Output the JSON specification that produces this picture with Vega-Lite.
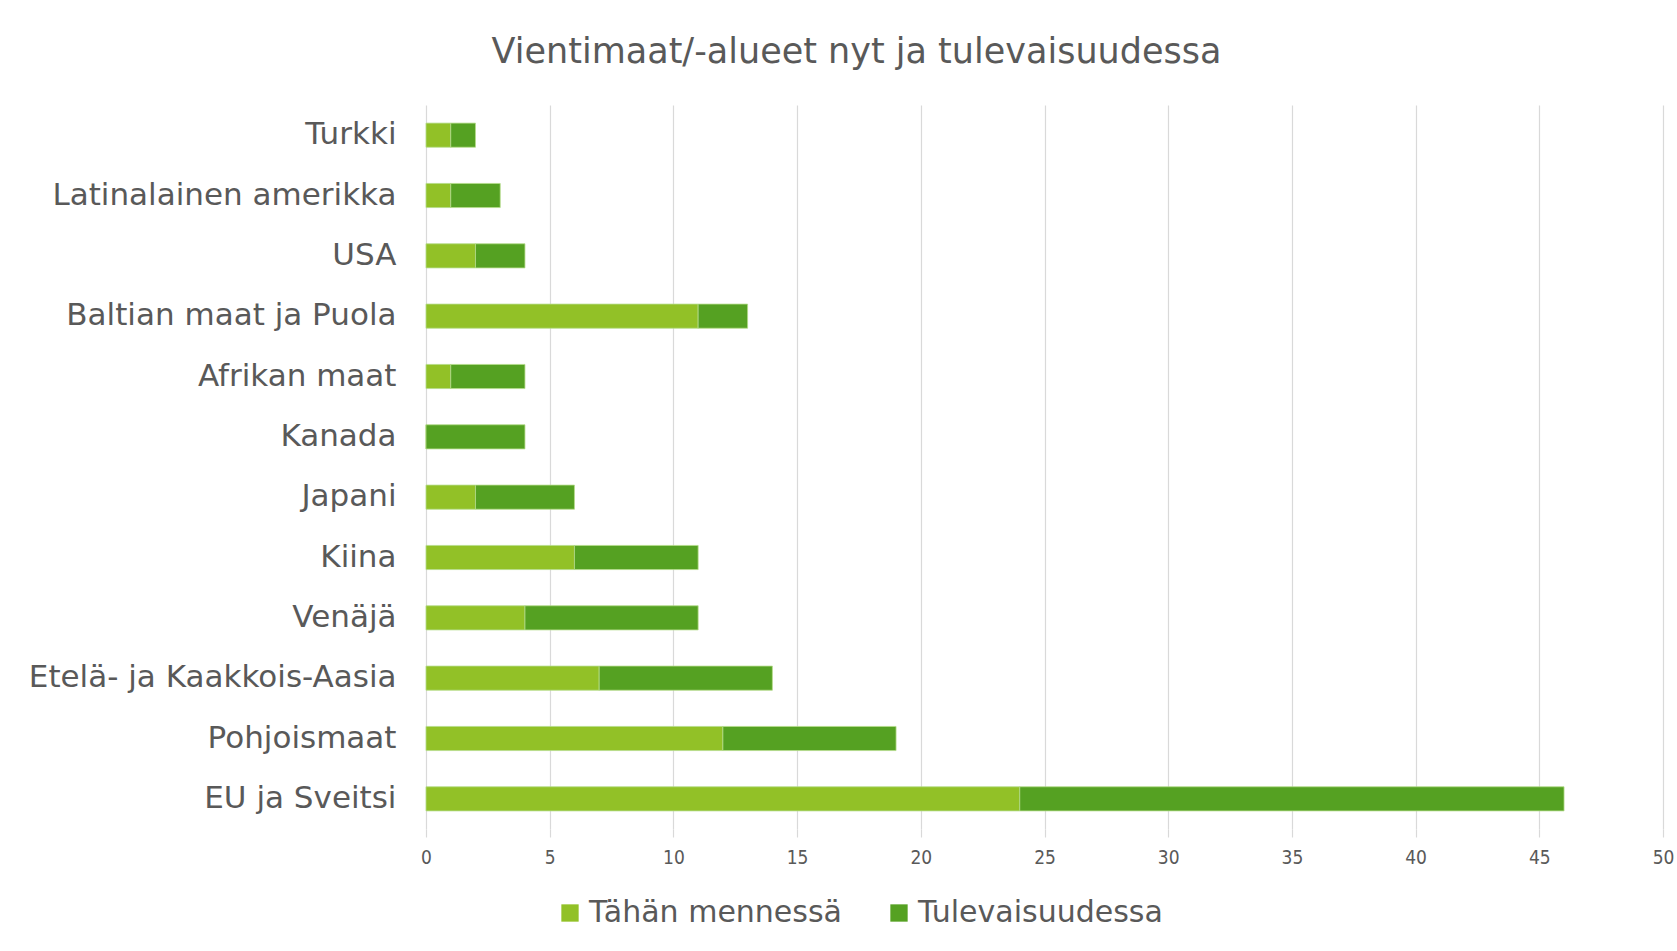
{
  "$schema": "https://vega.github.io/schema/vega-lite/v6.json",
  "width": 1237,
  "height": 724,
  "autosize": {"type": "none"},
  "padding": {"left": 426, "top": 105, "right": 14, "bottom": 122},
  "background": "white",
  "title": {
    "text": "Vientimaat/-alueet  nyt ja tulevaisuudessa",
    "anchor": "middle",
    "dx": -188,
    "offset": 35,
    "font": "DejaVu Sans",
    "fontSize": 35,
    "fontWeight": "normal",
    "color": "#595959"
  },
  "data": {
    "values": [
      {"maa": "Turkki", "vaihe": "Tähän mennessä", "arvo": 1},
      {"maa": "Turkki", "vaihe": "Tulevaisuudessa", "arvo": 1},
      {"maa": "Latinalainen amerikka", "vaihe": "Tähän mennessä", "arvo": 1},
      {"maa": "Latinalainen amerikka", "vaihe": "Tulevaisuudessa", "arvo": 2},
      {"maa": "USA", "vaihe": "Tähän mennessä", "arvo": 2},
      {"maa": "USA", "vaihe": "Tulevaisuudessa", "arvo": 2},
      {"maa": "Baltian maat ja Puola", "vaihe": "Tähän mennessä", "arvo": 11},
      {"maa": "Baltian maat ja Puola", "vaihe": "Tulevaisuudessa", "arvo": 2},
      {"maa": "Afrikan maat", "vaihe": "Tähän mennessä", "arvo": 1},
      {"maa": "Afrikan maat", "vaihe": "Tulevaisuudessa", "arvo": 3},
      {"maa": "Kanada", "vaihe": "Tähän mennessä", "arvo": 0},
      {"maa": "Kanada", "vaihe": "Tulevaisuudessa", "arvo": 4},
      {"maa": "Japani", "vaihe": "Tähän mennessä", "arvo": 2},
      {"maa": "Japani", "vaihe": "Tulevaisuudessa", "arvo": 4},
      {"maa": "Kiina", "vaihe": "Tähän mennessä", "arvo": 6},
      {"maa": "Kiina", "vaihe": "Tulevaisuudessa", "arvo": 5},
      {"maa": "Venäjä", "vaihe": "Tähän mennessä", "arvo": 4},
      {"maa": "Venäjä", "vaihe": "Tulevaisuudessa", "arvo": 7},
      {"maa": "Etelä- ja Kaakkois-Aasia", "vaihe": "Tähän mennessä", "arvo": 7},
      {"maa": "Etelä- ja Kaakkois-Aasia", "vaihe": "Tulevaisuudessa", "arvo": 7},
      {"maa": "Pohjoismaat", "vaihe": "Tähän mennessä", "arvo": 12},
      {"maa": "Pohjoismaat", "vaihe": "Tulevaisuudessa", "arvo": 7},
      {"maa": "EU ja Sveitsi", "vaihe": "Tähän mennessä", "arvo": 24},
      {"maa": "EU ja Sveitsi", "vaihe": "Tulevaisuudessa", "arvo": 22}
    ]
  },
  "mark": {"type": "bar", "stroke": "#b5dc8a", "strokeWidth": 0.8},
  "encoding": {
    "y": {
      "field": "maa",
      "type": "nominal",
      "sort": ["Turkki", "Latinalainen amerikka", "USA", "Baltian maat ja Puola", "Afrikan maat", "Kanada", "Japani", "Kiina", "Venäjä", "Etelä- ja Kaakkois-Aasia", "Pohjoismaat", "EU ja Sveitsi"],
      "scale": {"paddingInner": 0.6, "paddingOuter": 0.3},
      "axis": {
        "title": null,
        "domain": false,
        "ticks": false,
        "labelPadding": 30,
        "labelFont": "DejaVu Sans",
        "labelFontSize": 31,
        "labelColor": "#595959",
        "labelLimit": 500
      }
    },
    "x": {
      "field": "arvo",
      "type": "quantitative",
      "stack": "zero",
      "scale": {"domain": [0, 50], "nice": false},
      "axis": {
        "title": null,
        "values": [0, 5, 10, 15, 20, 25, 30, 35, 40, 45, 50],
        "domain": false,
        "grid": true,
        "gridColor": "#d9d9d9",
        "gridWidth": 1.2,
        "ticks": true,
        "tickColor": "#d9d9d9",
        "tickSize": 8,
        "tickWidth": 1.2,
        "labelFlush": false,
        "labelPadding": 11,
        "labelFont": "DejaVu Sans Condensed",
        "labelFontSize": 19,
        "labelColor": "#595959"
      }
    },
    "color": {
      "field": "vaihe",
      "type": "nominal",
      "sort": ["Tähän mennessä", "Tulevaisuudessa"],
      "scale": {"domain": ["Tähän mennessä", "Tulevaisuudessa"], "range": ["#92c127", "#55a122"]},
      "legend": {
        "title": null,
        "orient": "none",
        "direction": "horizontal",
        "legendX": 129,
        "legendY": 793,
        "symbolType": "square",
        "symbolSize": 300,
        "symbolStrokeWidth": 0,
        "labelFont": "DejaVu Sans",
        "labelFontSize": 30,
        "labelColor": "#595959",
        "labelLimit": 500,
        "labelOffset": 4,
        "columnPadding": 42
      }
    },
    "order": {"field": "vaihe", "sort": "descending"}
  },
  "config": {"view": {"stroke": null}}
}
